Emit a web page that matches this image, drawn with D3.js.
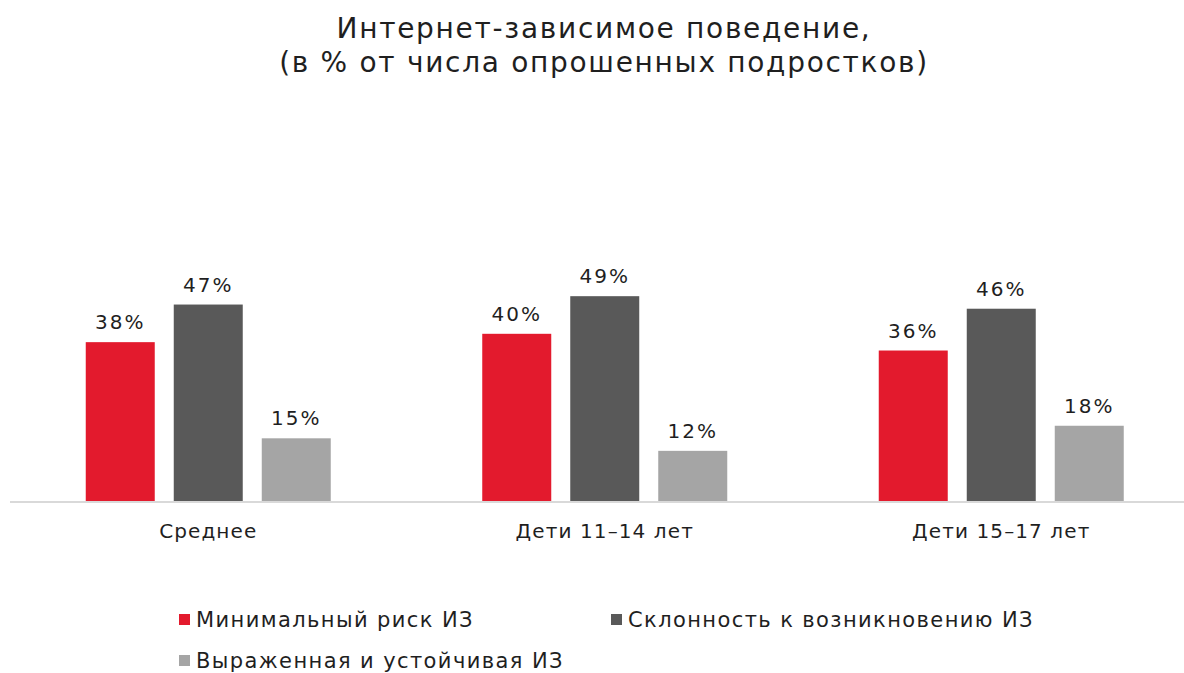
<!DOCTYPE html>
<html lang="ru">
  <head>
    <meta charset="utf-8" />
    <title>Интернет-зависимое поведение</title>
    <script src="https://d3js.org/d3.v7.min.js"></script>
    <style>
      body {
        margin: 0;
        background: #fff;
      }
      text {
        font-family: "DejaVu Sans", "Noto Sans", sans-serif;
        fill: #1f1f1f;
      }
      .title {
        font-size: 28px;
        letter-spacing: 1.7px;
        text-anchor: middle;
      }
      .value {
        font-size: 20px;
        letter-spacing: 2px;
        text-anchor: middle;
      }
      .cat {
        font-size: 20px;
        letter-spacing: 1.1px;
        text-anchor: middle;
      }
      .legend text {
        font-size: 21px;
        letter-spacing: 1.4px;
      }
    </style>
  </head>
  <body>
    <div id="chart"></div>
    <script>
      let width = 1184;
      let height = 673;

      // Data
      let categories = ["Среднее", "Дети 11–14 лет", "Дети 15–17 лет"];
      let seriesNames = [
        "Минимальный риск ИЗ",
        "Склонность к возникновению ИЗ",
        "Выраженная и устойчивая ИЗ",
      ];
      let seriesColors = ["#e31a2d", "#595959", "#a5a5a5"];
      let minimalRisk = [38, 40, 36];
      let tendency = [47, 49, 46];
      let pronounced = [15, 12, 18];
      let seriesValues = [minimalRisk, tendency, pronounced];

      let svg = d3
        .select("#chart")
        .append("svg")
        .attr("width", width)
        .attr("height", height);

      // Title
      let title = svg.append("text").attr("class", "title");
      title.append("tspan").attr("x", 604).attr("y", 38).text("Интернет-зависимое поведение,");
      title.append("tspan").attr("x", 604).attr("y", 72).text("(в % от числа опрошенных подростков)");

      let baseline = 501;
      let x0 = d3.scaleBand().domain(categories).range([10, 1199.5]);
      let x1 = d3
        .scaleBand()
        .domain(d3.range(seriesNames.length))
        .range([75.75, x0.bandwidth() - 75.75])
        .paddingInner(0.216);
      let y = d3.scaleLinear().domain([0, 50]).range([baseline, baseline - 209]);

      // Bars
      let groups = svg
        .append("g")
        .selectAll("g")
        .data(categories)
        .enter()
        .append("g")
        .attr("transform", function (d) {
          return "translate(" + x0(d) + ",0)";
        });

      function groupData(d, i) {
        return seriesValues.map(function (s, j) {
          return { s: j, v: s[i] };
        });
      }

      groups
        .selectAll("rect")
        .data(groupData)
        .enter()
        .append("rect")
        .attr("x", function (d) {
          return x1(d.s);
        })
        .attr("y", function (d) {
          return y(d.v);
        })
        .attr("width", x1.bandwidth())
        .attr("height", function (d) {
          return baseline - y(d.v);
        })
        .attr("fill", function (d) {
          return seriesColors[d.s];
        });

      // Value labels
      groups
        .selectAll("text.value")
        .data(groupData)
        .enter()
        .append("text")
        .attr("class", "value")
        .attr("x", function (d) {
          return x1(d.s) + x1.bandwidth() / 2;
        })
        .attr("y", function (d) {
          return y(d.v) - 13;
        })
        .text(function (d) {
          return d.v + "%";
        });

      // Axis line
      svg
        .append("line")
        .attr("x1", 10)
        .attr("x2", width)
        .attr("y1", baseline + 1)
        .attr("y2", baseline + 1)
        .attr("stroke", "#d9d9d9")
        .attr("stroke-width", 2);

      // Category labels
      svg
        .append("g")
        .selectAll("text")
        .data(categories)
        .enter()
        .append("text")
        .attr("class", "cat")
        .attr("x", function (d) {
          return x0(d) + x0.bandwidth() / 2;
        })
        .attr("y", 538)
        .text(function (d) {
          return d;
        });

      // Legend
      let legendPos = [
        [179, 620],
        [611, 620],
        [179, 661],
      ];
      let legend = svg
        .append("g")
        .attr("class", "legend")
        .selectAll("g")
        .data(seriesNames)
        .enter()
        .append("g")
        .attr("transform", function (d, i) {
          return "translate(" + legendPos[i][0] + "," + legendPos[i][1] + ")";
        });
      legend
        .append("rect")
        .attr("x", 0)
        .attr("y", -6)
        .attr("width", 11)
        .attr("height", 11)
        .attr("fill", function (d, i) {
          return seriesColors[i];
        });
      legend
        .append("text")
        .attr("x", 17)
        .attr("y", 7)
        .text(function (d) {
          return d;
        });
    </script>
  </body>
</html>
